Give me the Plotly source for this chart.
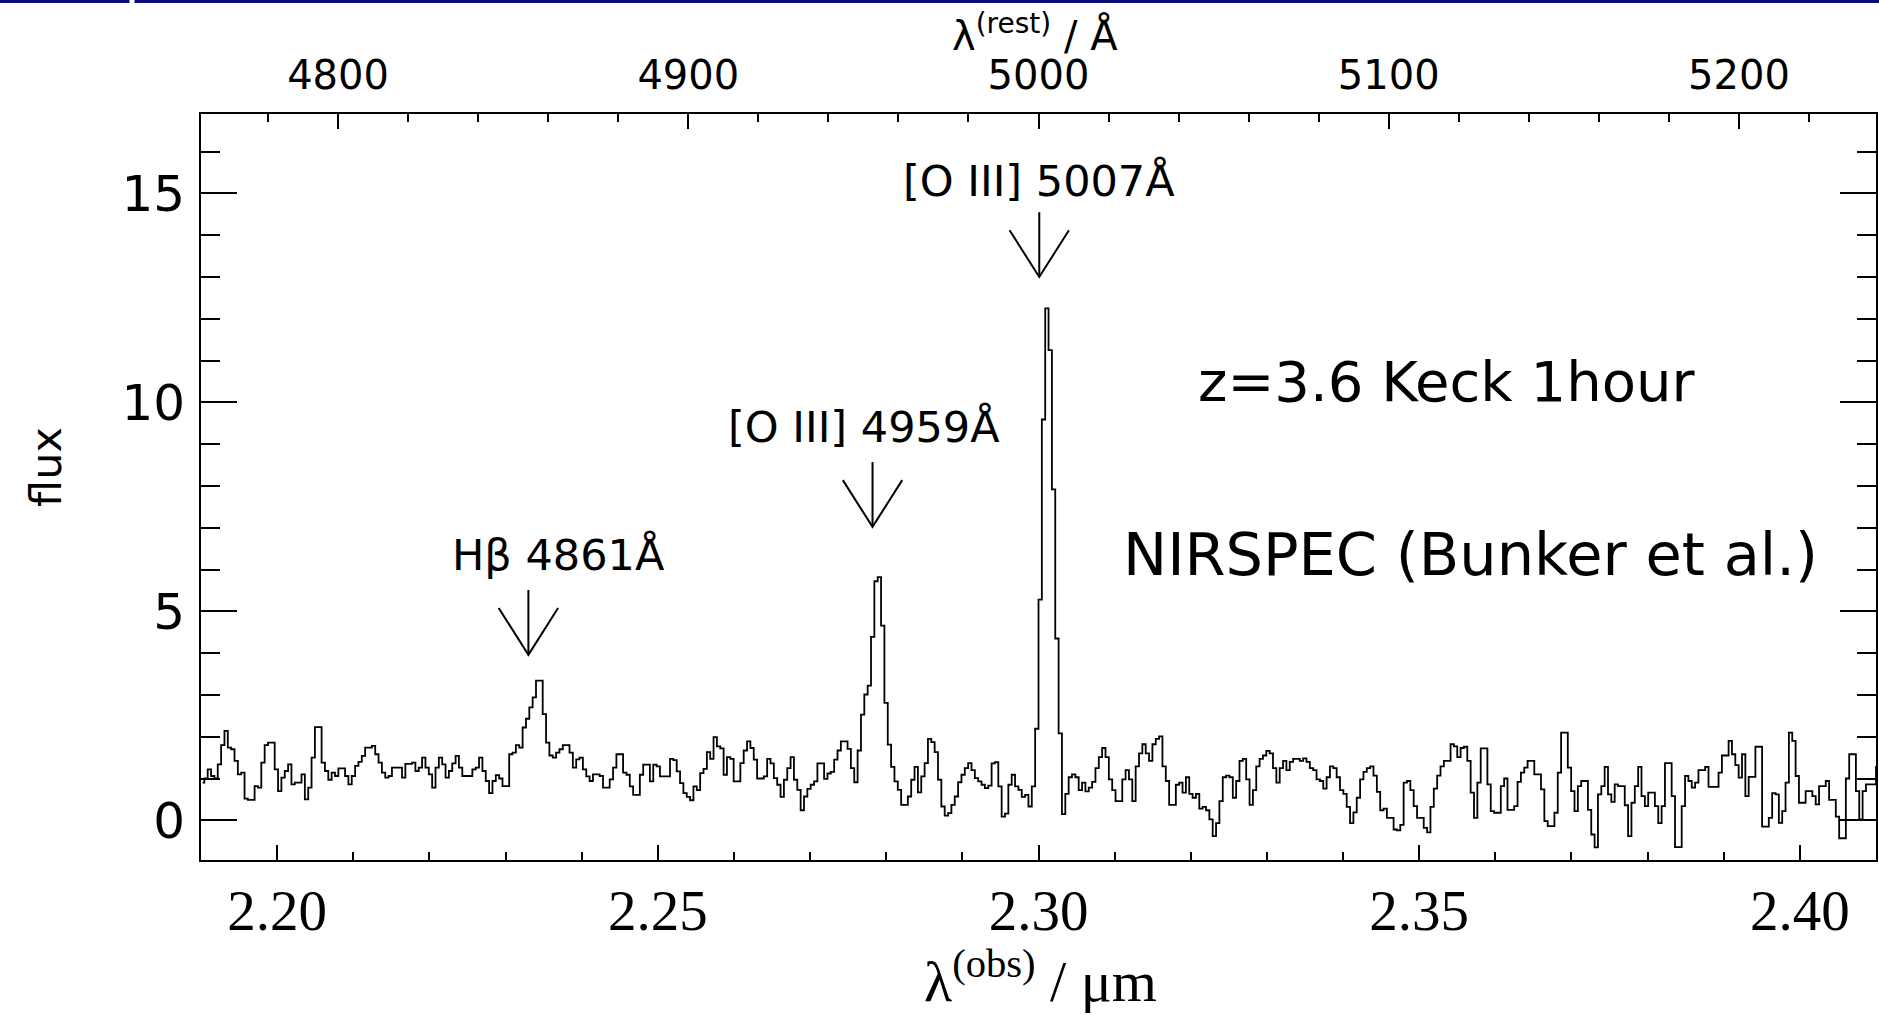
import plotly.graph_objects as go

# spectrum: Keck/NIRSPEC K-band, one value per detector pixel
REDSHIFT = 3.6
WAVE_START = 2.19      # micron, first pixel edge
PIXEL_STEP = 0.00044   # micron per pixel

FLUX = [
    0.90, 1.00, 1.22, 1.06, 1.00, 1.34, 1.80, 2.14, 1.74, 1.70, 1.42, 1.10, 1.14, 0.52, 0.49, 0.49, 0.82, 0.78, 1.38, 1.80,
    1.86, 1.86, 1.22, 0.70, 1.02, 1.18, 1.34, 0.86, 0.90, 0.90, 1.10, 0.50, 0.78, 1.50, 2.23, 2.23, 1.38, 1.18, 0.97, 1.14,
    1.06, 1.24, 1.24, 1.06, 0.86, 1.06, 1.30, 1.40, 1.54, 1.74, 1.74, 1.78, 1.58, 1.38, 1.14, 1.02, 1.06, 1.26, 1.26, 1.26,
    1.02, 1.35, 1.35, 1.38, 1.18, 1.26, 1.50, 1.26, 1.10, 0.78, 1.26, 1.50, 1.34, 1.02, 1.18, 1.36, 1.54, 1.26, 1.06, 1.06,
    1.06, 1.22, 1.26, 1.50, 1.18, 0.94, 0.65, 0.94, 1.08, 1.00, 0.82, 0.82, 1.58, 1.62, 1.80, 1.74, 2.22, 2.43, 2.70, 2.94,
    3.34, 3.34, 2.54, 1.86, 1.55, 1.50, 1.62, 1.70, 1.80, 1.80, 1.62, 1.26, 1.46, 1.50, 1.22, 1.05, 0.94, 1.10, 1.10, 1.06,
    0.78, 0.78, 0.98, 1.26, 1.58, 1.58, 1.14, 1.09, 0.81, 0.61, 0.61, 1.09, 1.33, 1.33, 0.93, 1.33, 1.29, 1.05, 1.05, 1.05,
    1.47, 1.44, 1.17, 0.89, 0.65, 0.56, 0.48, 0.81, 0.72, 1.13, 1.23, 1.63, 1.47, 1.99, 1.77, 1.72, 1.09, 1.51, 1.47, 0.93,
    0.93, 1.37, 1.67, 1.89, 1.73, 1.45, 1.00, 1.00, 1.05, 1.47, 1.36, 1.01, 0.85, 0.56, 0.97, 1.25, 1.51, 0.97, 0.73, 0.24,
    0.57, 0.75, 0.85, 0.93, 1.36, 1.36, 0.99, 1.12, 1.16, 1.45, 1.67, 1.89, 1.89, 1.71, 1.25, 0.91, 1.67, 2.53, 3.01, 3.22,
    4.39, 5.72, 5.82, 4.66, 2.81, 1.81, 1.28, 0.93, 0.73, 0.37, 0.37, 0.57, 0.97, 1.28, 0.67, 1.05, 1.37, 1.95, 1.87, 1.63,
    0.97, 0.33, 0.11, 0.17, 0.37, 0.57, 0.91, 1.09, 1.25, 1.37, 1.20, 1.01, 0.93, 0.85, 0.77, 0.83, 1.36, 1.39, 0.81, 0.09,
    0.16, 0.85, 1.09, 0.81, 0.73, 0.56, 0.61, 0.33, 0.81, 2.19, 5.28, 9.59, 12.25, 11.25, 7.92, 4.35, 2.08, 0.15, 0.63, 1.03,
    1.10, 1.03, 0.72, 0.90, 0.69, 0.78, 0.92, 1.25, 1.51, 1.73, 1.51, 0.98, 0.72, 0.46, 0.46, 0.98, 1.20, 0.98, 0.46, 1.29,
    1.60, 1.82, 1.60, 1.42, 1.82, 1.95, 2.01, 1.29, 0.94, 0.37, 0.37, 0.85, 0.90, 0.66, 1.03, 0.63, 0.54, 0.63, 0.28, 0.32,
    0.24, 0.02, -0.38, -0.07, 0.46, 1.03, 1.07, 1.03, 0.54, 0.94, 1.42, 1.47, 0.98, 0.37, 0.72, 1.29, 1.47, 1.55, 1.66, 1.60,
    1.25, 0.90, 1.25, 1.42, 1.20, 1.40, 1.47, 1.47, 1.42, 1.48, 1.40, 1.25, 1.20, 0.98, 0.94, 0.76, 1.03, 1.29, 1.25, 1.03,
    0.72, 0.63, 0.32, -0.07, 0.19, 0.54, 0.98, 1.16, 1.25, 1.29, 1.07, 0.68, 0.24, 0.28, 0.06, 0.06, -0.22, -0.24, -0.11, 0.90,
    0.94, 0.72, 0.34, 0.06, 0.06, -0.18, -0.29, 0.32, 0.76, 1.07, 1.29, 1.42, 1.42, 1.82, 1.77, 1.51, 1.73, 1.76, 1.42, 0.66,
    0.06, 0.90, 1.72, 1.72, 0.86, 0.22, 0.18, 0.18, 0.82, 1.00, 0.25, 0.25, 0.34, 0.92, 1.14, 1.26, 1.42, 1.42, 1.10, 1.10,
    0.74, -0.02, -0.14, -0.14, 0.18, 1.14, 2.10, 2.10, 1.26, 0.70, 0.22, 0.82, 0.94, 0.94, 0.25, -0.34, -0.65, 0.62, 0.82, 1.28,
    0.62, 0.44, 0.86, 0.82, 0.82, 0.36, -0.38, 0.42, 0.82, 1.28, 0.58, 0.34, 0.66, 0.66, 0.34, -0.07, 0.34, 1.37, 1.37, 0.58,
    -0.64, -0.64, 0.34, 1.06, 0.94, 0.78, 0.90, 1.20, 1.20, 1.28, 0.80, 0.80, 0.80, 1.14, 1.55, 1.55, 1.90, 1.58, 1.32, 1.02,
    1.58, 0.58, 1.04, 1.04, 1.76, 1.76, -0.15, -0.15, 0.06, 0.65, 0.62, -0.06, 0.22, 0.90, 2.10, 1.90, 1.06, 0.42, 0.42, 0.70,
    0.70, 0.58, 0.38, 0.82, 0.82, 0.94, 0.49, 0.49, 0.09, -0.43, -0.43, 1.00, 1.58, 1.58, 0.70, 0.02, 0.70, 0.86, 0.86, 0.86, 1.28,
]

# axes
OBS_RANGE = [2.19, 2.41]
OBS_TICKS = [2.20, 2.25, 2.30, 2.35, 2.40]
OBS_TICK_TEXT = ["2.20", "2.25", "2.30", "2.35", "2.40"]
REST_TICKS = [4800, 4900, 5000, 5100, 5200]
FLUX_RANGE = [-0.95, 16.9]
FLUX_TICKS = [0, 5, 10, 15]

# emission line markers
LINE_LABELS = ["Hβ 4861Å", "[O III] 4959Å", "[O III] 5007Å"]
ARROW_WAVE = [2.2330, 2.2782, 2.3001]
ARROW_TIP = [3.96, 7.02, 13.0]
LABEL_WAVE = [2.2370, 2.2771, 2.3001]
LABEL_FLUX = [6.36, 9.40, 15.30]

NOTES = ["z=3.6 Keck 1hour", "NIRSPEC (Bunker et al.)"]
NOTE_WAVE = [2.3536, 2.3568]
NOTE_FLUX = [10.5, 6.36]

SANS = "DejaVu Sans"
SERIF = "Liberation Serif, Times New Roman, serif"

wave = [WAVE_START + (i + 0.5) * PIXEL_STEP for i in range(len(FLUX))]
rest_range = [w * 1e4 / (1 + REDSHIFT) for w in OBS_RANGE]

fig = go.Figure()

# the spectrum, drawn as a histogram-style step line
fig.add_trace(go.Scatter(
    x=wave, y=FLUX, mode="lines",
    line=dict(shape="hvh", color="black", width=1.8),
    hoverinfo="skip", showlegend=False
))

# invisible copy on the rest-frame axis so the top axis gets drawn
fig.add_trace(go.Scatter(
    x=[w * 1e4 / (1 + REDSHIFT) for w in wave], y=FLUX, mode="lines",
    xaxis="x2", line=dict(width=0), opacity=0,
    hoverinfo="skip", showlegend=False
))

# open "V" arrows pointing at the lines
shaft, arm_dx, arm_dy = 1.55, 0.0039, 1.12
ax, ay = [], []
for w, tip in zip(ARROW_WAVE, ARROW_TIP):
    ax += [w, w, None, w - arm_dx, w, w + arm_dx, None]
    ay += [tip + shaft, tip, None, tip + arm_dy, tip, tip + arm_dy, None]
fig.add_trace(go.Scatter(
    x=ax, y=ay, mode="lines", line=dict(color="black", width=2),
    hoverinfo="skip", showlegend=False
))

for text, x, y in zip(LINE_LABELS, LABEL_WAVE, LABEL_FLUX):
    fig.add_annotation(x=x, y=y, text=text, showarrow=False,
                       xanchor="center", yanchor="middle",
                       font=dict(family=SANS, size=43, color="black"))

for text, x, y, size in zip(NOTES, NOTE_WAVE, NOTE_FLUX, [56, 59]):
    fig.add_annotation(x=x, y=y, text=text, showarrow=False,
                       xanchor="center", yanchor="middle",
                       font=dict(family=SANS, size=size, color="black"))

# axis titles placed by hand (paper coordinates)
fig.add_annotation(xref="paper", yref="paper", x=0.501, y=-0.157,
                   text="λ<sup>(obs)</sup> / μm", showarrow=False,
                   xanchor="center", yanchor="middle", borderpad=0,
                   font=dict(family=SERIF, size=58, color="black"))
fig.add_annotation(xref="paper", yref="paper", x=0.498, y=1.108,
                   text="λ<sup>(rest)</sup> / Å", showarrow=False,
                   xanchor="center", yanchor="middle",
                   font=dict(family=SANS, size=40, color="black"))
fig.add_annotation(xref="paper", yref="paper", x=-0.0925, y=0.527,
                   text="flux", showarrow=False, textangle=-90,
                   xanchor="center", yanchor="middle",
                   font=dict(family=SANS, size=43, color="black"))

# navy rule along the top edge (slide header)
for x0, x1 in [(-0.121, -0.0427), (-0.0397, 1.003)]:
    fig.add_shape(type="rect", xref="paper", yref="paper",
                  x0=x0, x1=x1, y0=1.1488, y1=1.1535,
                  fillcolor="#0d0d74", line=dict(width=0), layer="above")

tick_common = dict(ticks="inside", tickcolor="black", tickwidth=1.5,
                   showgrid=False, zeroline=False, showline=True,
                   linecolor="black", linewidth=2, automargin=False)

fig.update_layout(
    width=1879, height=1015,
    margin=dict(l=201, r=3, t=114, b=155, autoexpand=False),
    paper_bgcolor="white", plot_bgcolor="white",
    showlegend=False,
    xaxis=dict(
        range=OBS_RANGE, tickvals=OBS_TICKS, ticktext=OBS_TICK_TEXT,
        ticklen=15, minor=dict(dtick=0.01, tick0=2.20, ticklen=8,
                               tickwidth=1.5, tickcolor="black", ticks="inside"),
        tickfont=dict(family=SERIF, size=57, color="black"),
        ticklabelstandoff=0,
        **tick_common
    ),
    xaxis2=dict(
        overlaying="x", side="top", range=rest_range, tickvals=REST_TICKS,
        ticklen=15, minor=dict(dtick=20, tick0=4800, ticklen=8,
                               tickwidth=1.5, tickcolor="black", ticks="inside"),
        tickfont=dict(family=SANS, size=40, color="black"),
        ticklabelstandoff=7,
        **tick_common
    ),
    yaxis=dict(
        range=FLUX_RANGE, tickvals=FLUX_TICKS, mirror="ticks",
        ticklen=36, minor=dict(dtick=1, ticklen=19, tickwidth=1.5,
                               tickcolor="black", ticks="inside"),
        tickfont=dict(family=SANS, size=50, color="black"),
        ticklabelstandoff=4,
        **tick_common
    ),
)

# drop the default page margin so the figure sits flush in the window
fig.write_html("out.html",
               config={"displayModeBar": False},
               post_script="document.body.style.margin='0';"
                           "document.body.style.overflow='hidden';")
